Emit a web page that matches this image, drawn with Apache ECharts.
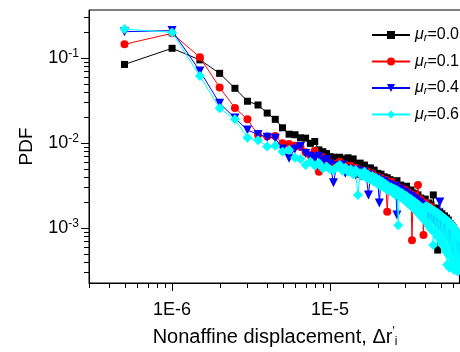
<!DOCTYPE html>
<html><head><meta charset="utf-8">
<script src="https://cdn.jsdelivr.net/npm/echarts@6/dist/echarts.min.js"></script>
<style>html,body{margin:0;padding:0;background:#fff}#c{width:460px;height:352px}</style>
</head><body><div id="c"></div>
<script>
// bin centres of the nonaffine displacement, in units of 1e-6
const displacementE6 = [0.5,1,1.5,2,2.5,3,3.5,4,4.5,5,5.5,6,6.5,7,7.5,8,8.5,9,9.5,10,
10.5,11,11.5,12,12.5,13,13.5,14,14.5,15,15.5,16,16.5,17,17.5,18,18.5,19,19.5,20,
20.5,21,21.5,22,22.5,23,23.5,24,24.5,25,25.5,26,26.5,27,27.5,28,28.5,29,29.5,30,
30.5,31,31.5,32,32.5,33,33.5,34,34.5,35,35.5,36,36.5,37,37.5,38,38.5,39,39.5,40,
40.5,41,41.5,42,42.5,43,43.5,44,44.5,45,45.5,46,46.5,47,47.5,48,48.5,49,49.5,50,
50.5,51,51.5,52,52.5,53,53.5,54,54.5,55,55.5,56,56.5,57,57.5,58,58.5,59,59.5,60,
60.5,61,61.5,62,62.5,63,63.5,64,64.5,65,65.5,66,66.5];

const seriesNames = ['μr=0.0','μr=0.1','μr=0.4','μr=0.6'];

const pdfMu00 = [0.084,0.130,0.095,0.066,0.044,0.031,0.028,0.0225,0.019,0.0151,0.0127,0.0125,0.0115,0.0114,0.0099,0.0104,0.0083,0.0079,0.0075,0.0069,
0.0068,0.0067,0.0068,0.0063,0.0065,0.0067,0.0060,0.0065,0.0054,0.0057,0.0058,0.0052,0.0055,0.0049,0.0047,0.0051,0.0046,0.0048,0.0042,0.0044,
0.0041,0.0043,0.0038,0.0040,0.0036,0.0039,0.0034,0.0037,0.0033,0.0035,0.0030,0.0033,0.0036,0.00296,0.0031,0.0032,0.0028,0.0030,0.00265,0.00288,
0.0031,0.00258,0.00272,0.00245,0.0028,0.00238,0.00258,0.00219,0.00251,0.00232,0.00208,0.00245,0.00213,0.00197,0.00225,0.00192,0.00213,0.00182,0.00202,0.00219,
0.00177,0.00192,0.00163,0.00197,0.00172,0.00155,0.00187,0.00163,0.00147,0.00245,0.00159,0.00139,0.00172,0.00151,0.00131,0.00055,0.00142,0.00124,0.00155,0.00135,
0.00118,0.00147,0.00131,0.00128,0.00112,0.00139,0.00121,0.00106,0.00131,0.00115,0.00097,0.00124,0.00106,0.00090,0.00112,0.00097,0.00083,0.00106,0.00092,0.00076,
0.00100,0.00085,0.00068,0.00092,0.00078,0.00063,0.00087,0.00072,0.00039,0.00080,0.00059,0.00019,0.00070];

const pdfMu01 = [0.145,0.195,0.102,0.045,0.0258,0.0190,0.0124,0.0119,0.0121,0.0099,0.0097,0.0093,0.0090,0.0078,0.0072,0.0081,0.0046,0.0068,0.0062,0.0058,
0.0057,0.0054,0.0060,0.0052,0.0055,0.0049,0.0054,0.0047,0.0051,0.0043,0.0048,0.0046,0.0041,0.0047,0.0042,0.0040,0.0044,0.0041,0.0037,0.0040,
0.0035,0.0039,0.0036,0.0032,0.0037,0.00155,0.0034,0.0030,0.0035,0.0031,0.0028,0.0032,0.0030,0.00265,0.0030,0.00272,0.00245,0.00288,0.00258,0.0028,
0.00232,0.00265,0.00238,0.00213,0.00251,0.00072,0.00225,0.00245,0.00202,0.00232,0.00208,0.0032,0.00197,0.00219,0.00187,0.00208,0.00177,0.00083,0.00192,0.00168,
0.00197,0.00172,0.00155,0.00182,0.00163,0.00147,0.00177,0.00155,0.00139,0.00163,0.00142,0.00128,0.00155,0.00135,0.00121,0.00147,0.00128,0.00112,0.00139,0.00121,
0.00106,0.00131,0.00115,0.00100,0.00124,0.00108,0.00095,0.00118,0.00103,0.00087,0.00112,0.00097,0.00083,0.00106,0.00090,0.00076,0.00100,0.00085,0.00068,0.00095,
0.00080,0.00062,0.00090,0.00074,0.00055,0.00085,0.00070,0.00048,0.00080,0.00065,0.00045,0.00076,0.00062];

const pdfMu04 = [0.204,0.210,0.0703,0.0293,0.0197,0.0142,0.0126,0.0117,0.0114,0.0085,0.0066,0.0085,0.0091,0.0075,0.0070,0.0066,0.0070,0.0061,0.0064,0.0057,
0.0034,0.0054,0.0051,0.0055,0.0044,0.0049,0.0046,0.0048,0.0042,0.0047,0.0041,0.0043,0.0046,0.0039,0.00245,0.0042,0.0037,0.0039,0.0035,0.0038,
0.00197,0.0036,0.0032,0.0035,0.0031,0.0033,0.00296,0.0032,0.0028,0.0030,0.00272,0.0031,0.00142,0.00288,0.00258,0.0028,0.00245,0.00265,0.00232,0.00258,
0.00225,0.00245,0.00213,0.00238,0.00208,0.00232,0.00197,0.00219,0.00187,0.00213,0.00182,0.00202,0.00172,0.00197,0.00168,0.00187,0.00159,0.00182,0.00151,0.00177,
0.00155,0.00168,0.00142,0.00163,0.00139,0.00155,0.00131,0.00151,0.00128,0.00147,0.00124,0.00139,0.00118,0.00135,0.00115,0.00131,0.00108,0.00128,0.00202,0.00121,
0.00103,0.00118,0.00097,0.00112,0.00092,0.00108,0.00090,0.00106,0.00085,0.00100,0.00080,0.00097,0.00076,0.00092,0.00072,0.00087,0.00068,0.00085,0.00063,0.00080,
0.00059,0.00078,0.00052,0.00074,0.00047,0.00070,0.00042,0.00067,0.00038,0.00063,0.00034,0.00062,0.00030];

const pdfMu06 = [0.219,0.200,0.0614,0.0256,0.0190,0.0115,0.0108,0.0091,0.0093,0.0079,0.0083,0.0067,0.0065,0.0055,0.0060,0.0054,0.0058,0.0050,0.0053,0.0049,
0.0048,0.0052,0.0055,0.0047,0.0051,0.0046,0.0049,0.0043,0.0048,0.00245,0.0044,0.0041,0.0046,0.0039,0.0042,0.0037,0.0041,0.0035,0.0039,0.0033,
0.0037,0.0031,0.0035,0.0030,0.0033,0.0028,0.0031,0.00272,0.0030,0.00258,0.00288,0.00245,0.0028,0.00108,0.00265,0.00232,0.00258,0.00219,0.00245,0.00208,
0.00238,0.00197,0.00225,0.00187,0.00219,0.00177,0.00208,0.00168,0.00202,0.00159,0.00192,0.00151,0.00187,0.00142,0.00177,0.00135,0.00172,0.00128,0.00163,0.00121,
0.00182,0.00115,0.00177,0.00106,0.00172,0.00100,0.00168,0.00095,0.00163,0.00063,0.00159,0.00090,0.00155,0.00085,0.00151,0.00080,0.00147,0.00076,0.00142,0.00070,
0.00139,0.00067,0.00135,0.00063,0.00131,0.00059,0.00128,0.00053,0.00124,0.00037,0.00121,0.00048,0.00118,0.00034,0.00112,0.00045,0.00108,0.00036,0.00106,0.00039,
0.00100,0.00032,0.00097,0.00038,0.00092,0.00034,0.00090,0.00031,0.00085,0.00036,0.00080,0.00032,0.00076];

const xMajorTicks = [1e-6, 1e-5];
const xMinorTicks = [3e-7,4e-7,5e-7,6e-7,7e-7,8e-7,9e-7,2e-6,3e-6,4e-6,5e-6,6e-6,7e-6,8e-6,9e-6,2e-5,3e-5,4e-5,5e-5,6e-5];
const yMajorTicks = [1e-1, 1e-2, 1e-3];
const yMinorTicks = [3e-1,2e-1,9e-2,8e-2,7e-2,6e-2,5e-2,4e-2,3e-2,2e-2,9e-3,8e-3,7e-3,6e-3,5e-3,4e-3,3e-3,2e-3,9e-4,8e-4,7e-4,6e-4,5e-4,4e-4,3e-4];

const X_MIN = 2.98e-7, X_MAX = 6.74e-5, Y_MIN = 2.254e-4, Y_MAX = 0.367;
const FONT = "'Liberation Sans', Arial, sans-serif";

const seriesData = [pdfMu00, pdfMu01, pdfMu04, pdfMu06];
const colors = ['#000000', '#ff0000', '#0000ff', '#00ffff'];
const symbols = ['rect', 'circle', 'triangle', 'diamond'];
const symbolSizes = [7, 8, 9, 10];
const symbolRotates = [0, 0, 180, 0];

function isDecade(v) {
  const l = Math.log10(v);
  return Math.abs(l - Math.round(l)) < 1e-6;
}

function tickSeries(values, dim, len) {
  return {
    type: 'custom', silent: true, clip: false, z: 10,
    data: values.map(v => dim === 'x' ? [v, Y_MIN] : [X_MIN, v]),
    renderItem: function (params, api) {
      const p = api.coord([api.value(0), api.value(1)]);
      const x = Math.round(p[0]) + 0.5, y = Math.round(p[1]) + 0.5;
      const shape = dim === 'x'
        ? { x1: x, y1: y - 0.5, x2: x, y2: y - 0.5 + len }
        : { x1: x - 0.5, y1: y, x2: x - 0.5 - len, y2: y };
      return { type: 'line', shape: shape, style: { stroke: '#000', lineWidth: 1 } };
    }
  };
}

const lineSeries = seriesNames.map((name, i) => ({
  name: name, type: 'line',
  data: displacementE6.map((d, j) => [d * 1e-6, seriesData[i][j]]),
  symbol: symbols[i], symbolSize: symbolSizes[i], symbolRotate: symbolRotates[i],
  itemStyle: { color: colors[i] },
  lineStyle: { color: colors[i], width: 1 },
  showAllSymbol: true, clip: true, z: 2 + i
}));

const chart = echarts.init(document.getElementById('c'), null, { renderer: 'canvas' });
chart.setOption({
  animation: false,
  backgroundColor: '#fff',
  grid: { left: 89, top: 10, width: 372, height: 273, show: true, borderColor: '#000', borderWidth: 1, outerBoundsMode: 'none' },
  legend: {
    data: seriesNames, orient: 'vertical', left: 366, top: 22,
    itemWidth: 38, itemHeight: 10, itemGap: 10,
    textStyle: { fontSize: 16, color: '#000', fontFamily: FONT,
      rich: { mu: { fontSize: 16, fontStyle: 'italic', fontFamily: FONT, color: '#000' },
              r: { fontSize: 11, fontStyle: 'italic', fontFamily: FONT, color: '#000', verticalAlign: 'bottom', padding: [6, 0, 0, 0] },
              t: { fontSize: 16, fontFamily: FONT, color: '#000' } } },
    formatter: name => '{mu|μ}{r|r}{t|' + name.slice(2) + '}'
  },
  xAxis: [{
    type: 'log', logBase: 10, min: X_MIN, max: X_MAX,
    axisLine: { show: true, onZero: false, lineStyle: { color: '#000', width: 1 } },
    axisTick: { show: false }, splitLine: { show: false }, minorTick: { show: false },
    axisLabel: { fontSize: 18, color: '#000', fontFamily: FONT, margin: 18,
      formatter: v => isDecade(v) ? '1E' + Math.round(Math.log10(v)) : '' },
    name: "Nonaffine displacement, Δr{sup|'}{sub|i}", nameLocation: 'middle', nameGap: 43,
    nameTextStyle: { fontSize: 20, color: '#000', fontFamily: FONT,
      rich: { sup: { fontSize: 12, fontFamily: FONT, color: '#000', verticalAlign: 'top', padding: [0, 0, 10, 0] },
              sub: { fontSize: 12, fontFamily: FONT, color: '#000', verticalAlign: 'bottom', padding: [8, 0, 0, 0] } } }
  }],
  yAxis: [{
    type: 'log', logBase: 10, min: Y_MIN, max: Y_MAX,
    axisLine: { show: true, onZero: false, lineStyle: { color: '#000', width: 1 } },
    axisTick: { show: false }, splitLine: { show: false }, minorTick: { show: false },
    axisLabel: { fontSize: 18, color: '#000', fontFamily: FONT, margin: 10,
      formatter: v => isDecade(v) ? '10{sup|' + Math.round(Math.log10(v)) + '}' : '',
      rich: { sup: { fontSize: 12, fontFamily: FONT, color: '#000', verticalAlign: 'top', padding: [0, 0, 8, 0] } } },
    name: 'PDF', nameLocation: 'middle', nameGap: 53,
    nameTextStyle: { fontSize: 19, color: '#000', fontFamily: FONT }
  }],
  series: lineSeries.concat([
    tickSeries(xMajorTicks, 'x', 8), tickSeries(xMinorTicks, 'x', 5),
    tickSeries(yMajorTicks, 'y', 8), tickSeries(yMinorTicks, 'y', 5)
  ])
});
</script></body></html>
